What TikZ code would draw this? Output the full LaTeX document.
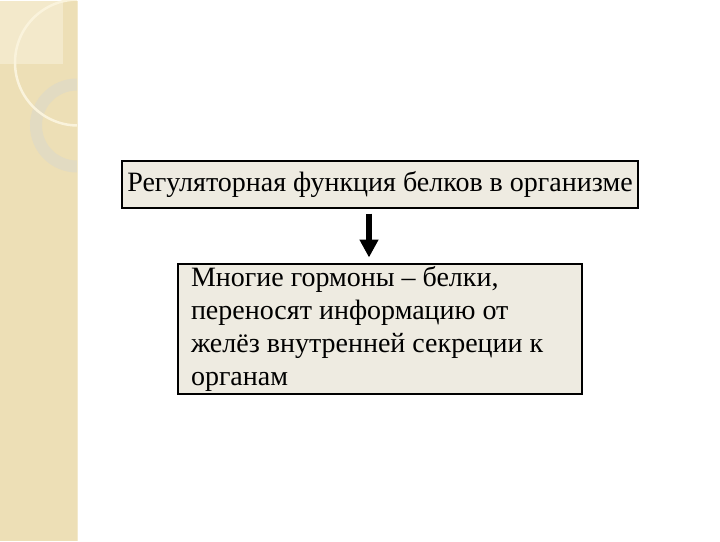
\documentclass[tikz,border=0pt]{standalone}
\usepackage{fontspec}
\setmainfont{Liberation Serif}
\usetikzlibrary{positioning}
\usetikzlibrary{arrows.meta}
\definecolor{stripbg}{RGB}{237,223,182}
\definecolor{stripli}{RGB}{243,233,203}
\definecolor{ringc}{RGB}{226,219,194}
\definecolor{arcc}{RGB}{250,243,220}
\definecolor{boxbg}{RGB}{238,235,225}
\tikzset{
    titlebox/.style = {rectangle, line width=2pt, draw=black, fill=boxbg, align=center, minimum width=516, minimum height=47, inner sep=0pt, font=\rmfamily\fontsize{28}{33}\selectfont, text=black},
    textbox/.style = {rectangle, line width=2pt, draw=black, fill=boxbg, align=flush left, minimum width=404, minimum height=130, text width=378, inner xsep=13, inner ysep=0pt, font=\rmfamily\fontsize{28}{33}\selectfont, text=black},
    arrowb/.style = {-{Triangle[width=18,length=18]}, line width=5.5pt, black}
}
\begin{document}
\begin{tikzpicture}[x=1pt,y=-1pt]
% left strip
\fill[stripbg] (0,0) rectangle (78,540);
\fill[stripli] (0,0) rectangle (63,63);
\begin{scope}
\clip (0,0) rectangle (77,540);
\draw[ringc, line width=12pt] (77,125) circle (41);
\draw[arcc, line width=2.5pt] (78,62) circle (63);
\end{scope}
\draw[stripli, line width=1pt] (77.5,0) -- (77.5,540);
%
\node[titlebox] at (380,183.5) (title) {Регуляторная функция белков в организме};
\node[textbox] at (380,328) (info) {Многие гормоны – белки,\\переносят информацию от\\желёз внутренней секреции к\\органам};
%
\draw[arrowb] ([xshift=-11, yshift=-5]title.south) -- ([xshift=-11, yshift=5]info.north);

\path[use as bounding box] (0,0) rectangle (720,540);

\end{tikzpicture}
\end{document}
